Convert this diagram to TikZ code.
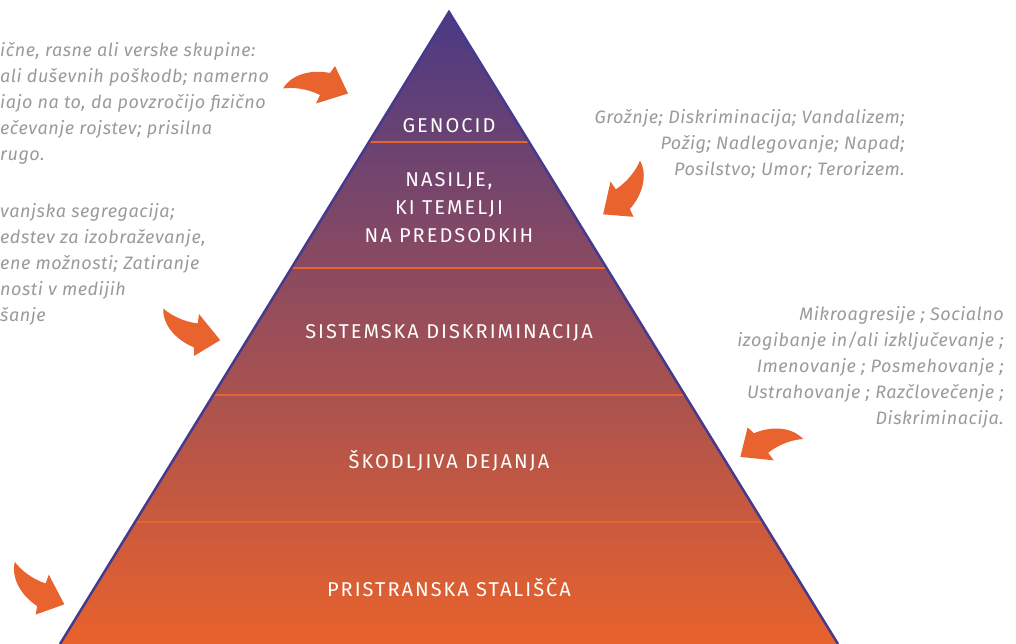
\documentclass[tikz,border=0pt]{standalone}
\usepackage{fontspec}
\setmainfont{Fira Sans}
\usepackage{tikz}
\usetikzlibrary{calc}
\definecolor{pyrtop}{HTML}{4B3A84}
\definecolor{pyrmid}{HTML}{964A68}
\definecolor{pyrbot}{HTML}{E8622C}
\definecolor{pyredge}{HTML}{463A8C}
\definecolor{bandline}{HTML}{E5652F}
\definecolor{arroworange}{HTML}{E8632D}
\definecolor{notegray}{HTML}{9A9A9A}
\newcommand{\levellabel}[3]{\node[level] (#1) at (449,#2) {#3};}
\newcommand{\bentarrow}[3]{\begin{scope}[shift={(#1,#2)},#3]
\fill[arroworange] (-32,3.5) .. controls (-24,-10) and (-5,-16) .. (15,-12) -- (20,-19) -- (33,8.5) -- (1,18.5) -- (5,10) .. controls (-8,3.5) and (-22,2) .. (-32,3.5) -- cycle;
\end{scope}}

\begin{document}
\begin{tikzpicture}[x=1pt,y=-1pt,
  level/.style={text=white,font=\fontsize{20}{28}\selectfont\addfontfeature{LetterSpace=10},align=center,inner sep=0pt},
  note/.style={text=notegray,font=\fontsize{18}{26}\selectfont\itshape\addfontfeature{LetterSpace=3},inner sep=0pt},
  sep/.style={bandline,line width=1.2pt}]
\useasboundingbox (0,0) rectangle (1016,644);
\clip (0,0) rectangle (1016,644);
% pyramid
\coordinate (apex) at (449,12);
\coordinate (bl) at (60,644);
\coordinate (br) at (838,644);
\shade[top color=pyrtop,middle color=pyrmid,bottom color=pyrbot] (apex) -- (br) -- (bl) -- cycle;
% band borders
\draw[sep] ($(apex)!0.2057!(bl)$) -- ($(apex)!0.2057!(br)$);
\draw[sep] ($(apex)!0.4051!(bl)$) -- ($(apex)!0.4051!(br)$);
\draw[sep] ($(apex)!0.6060!(bl)$) -- ($(apex)!0.6060!(br)$);
\draw[sep] ($(apex)!0.8070!(bl)$) -- ($(apex)!0.8070!(br)$);
\draw[pyredge,line width=2.5pt] (bl) -- (apex) -- (br);
% band labels
\levellabel{genocid}{126}{GENOCID}
\levellabel{nasilje}{208}{NASILJE,\\KI TEMELJI\\NA PREDSODKIH}
\levellabel{sistem}{333}{SISTEMSKA DISKRIMINACIJA}
\levellabel{skodljiva}{461}{ŠKODLJIVA DEJANJA}
\levellabel{pristranska}{588}{PRISTRANSKA STALIŠČA}
% notes
\node[note,anchor=west,align=left] (notegen) at (0,103.5) {ične, rasne ali verske skupine:\\ali duševnih poškodb; namerno\\iajo na to, da povzročijo fizično\\ečevanje rojstev; prisilna\\rugo.};
\node[note,anchor=west,align=left] (notesis) at (0,264) {vanjska segregacija;\\edstev za izobraževanje,\\ene možnosti; Zatiranje\\nosti v medijih\\šanje};
\node[note,anchor=east,align=right] (notenas) at (905,143.5) {Grožnje; Diskriminacija; Vandalizem;\\Požig; Nadlegovanje; Napad;\\Posilstvo; Umor; Terorizem.};
\node[note,anchor=east,align=right] (noteskod) at (1004,367.5) {Mikroagresije ; Socialno\\izogibanje in/ali izključevanje ;\\Imenovanje ; Posmehovanje ;\\Ustrahovanje ; Razčlovečenje ;\\Diskriminacija.};
% arrows
\bentarrow{315}{85}{}
\bentarrow{627}{190}{rotate=-120}
\bentarrow{188}{329}{rotate=146.5,xscale=-1}
\bentarrow{771}{442}{rotate=11.5,xscale=-1}
\bentarrow{35}{587}{rotate=135,xscale=-1}
\end{tikzpicture}
\end{document}
